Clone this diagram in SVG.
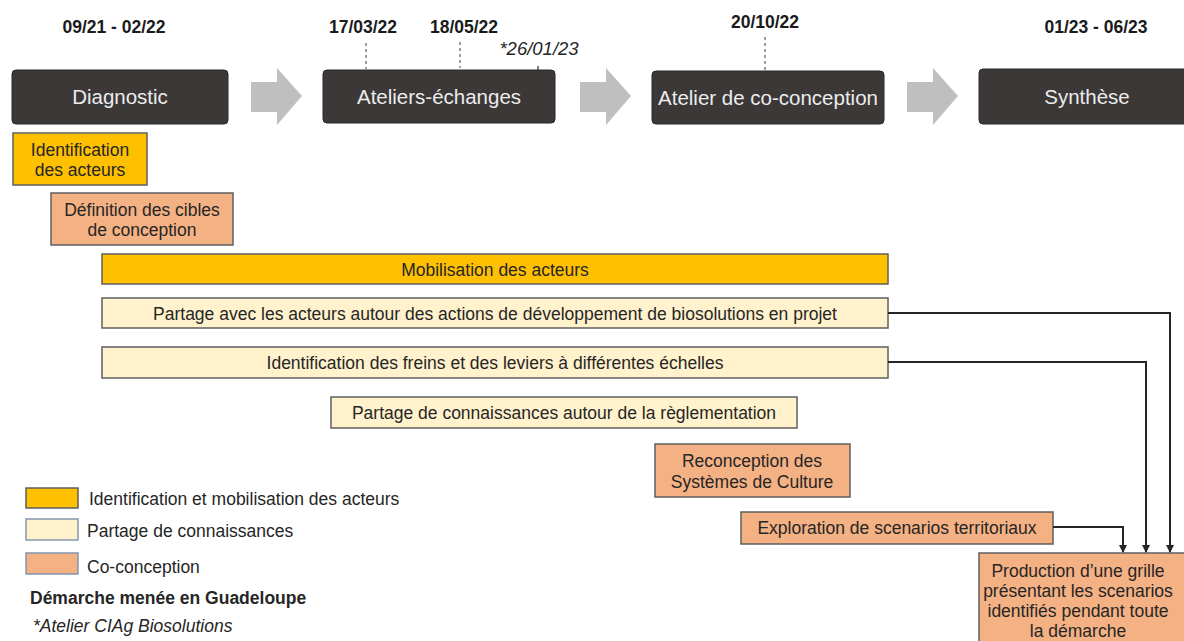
<svg xmlns="http://www.w3.org/2000/svg" width="1184" height="641" viewBox="0 0 1184 641">
<style>
text{font-family:"Liberation Sans",Arial,sans-serif;fill:#262626}
.date{font-size:17.5px;font-weight:bold;text-anchor:middle;fill:#1a1a1a}
.phase{fill:#3b3837;stroke:#2a2828;stroke-width:1}
.phase-t{font-size:20.5px;fill:#ececec;text-anchor:middle}
.garrow{fill:#bfbfbf}
.dash{stroke:#7f7f7f;stroke-width:1.5;stroke-dasharray:3 3}
.box{stroke:#5f5f5f;stroke-width:1.5}
.yel{fill:#ffc000}
.cream{fill:#fff2cc}
.peach{fill:#f4b183}
.bt{font-size:17.5px;text-anchor:middle}
.lg{font-size:17.5px}
.conn{fill:none;stroke:#262626;stroke-width:2}
</style>
<defs>
<marker id="ahd" markerWidth="8" markerHeight="8" refX="7" refY="4" orient="auto" markerUnits="userSpaceOnUse" viewBox="0 0 8 8">
<path d="M0,0 L8,4 L0,8 Z" fill="#262626"/>
</marker>
</defs>

<g id="dates">
<text class="date" x="114" y="33">09/21 - 02/22</text>
<text class="date" x="363" y="33">17/03/22</text>
<text class="date" x="464" y="33">18/05/22</text>
<text x="539" y="55" style="font-size:18.5px;font-style:italic;text-anchor:middle">*26/01/23</text>
<text class="date" x="765" y="28">20/10/22</text>
<text class="date" x="1096" y="33">01/23 - 06/23</text>
<line class="dash" x1="366" y1="43" x2="366" y2="69"/>
<line class="dash" x1="460" y1="42" x2="460" y2="68"/>
<line class="dash" x1="765" y1="37" x2="765" y2="70"/>
<line x1="538" y1="66" x2="538" y2="71" stroke="#555" stroke-width="1.5"/>
</g>

<g id="phase-diagnostic">
<rect class="phase" x="12" y="70" width="216" height="54" rx="4"/>
<text class="phase-t" x="120" y="104">Diagnostic</text>
</g>
<g id="phase-ateliers">
<rect class="phase" x="323" y="70" width="232" height="53" rx="4"/>
<text class="phase-t" x="439" y="104">Ateliers-échanges</text>
</g>
<g id="phase-coconception">
<rect class="phase" x="652" y="71" width="232" height="53" rx="4"/>
<text class="phase-t" x="768" y="105">Atelier de co-conception</text>
</g>
<g id="phase-synthese">
<rect class="phase" x="979" y="69" width="215" height="55" rx="4"/>
<text class="phase-t" x="1087" y="104">Synthèse</text>
</g>

<g id="phase-arrows">
<path class="garrow" d="M251,82 L277,82 L277,68 L302,96 L277,125 L277,112 L251,112 Z"/>
<path class="garrow" d="M580,82 L606,82 L606,68 L631,96 L606,125 L606,112 L580,112 Z"/>
<path class="garrow" d="M907,82 L933,82 L933,68 L958,96 L933,125 L933,112 L907,112 Z"/>
</g>

<g id="n-identification-acteurs">
<rect class="box yel" x="13" y="133" width="134" height="52"/>
<text class="bt" x="80" y="156">Identification</text>
<text class="bt" x="80" y="176">des acteurs</text>
</g>
<g id="n-definition-cibles">
<rect class="box peach" x="51" y="193" width="182" height="52"/>
<text class="bt" x="142" y="216">Définition des cibles</text>
<text class="bt" x="142" y="236">de conception</text>
</g>
<g id="n-mobilisation">
<rect class="box yel" x="102" y="254" width="786" height="30"/>
<text class="bt" x="495" y="276">Mobilisation des acteurs</text>
</g>
<g id="n-partage-acteurs">
<rect class="box cream" x="102" y="298" width="786" height="30"/>
<text class="bt" x="495" y="320">Partage avec les acteurs autour des actions de développement de biosolutions en projet</text>
</g>
<g id="n-freins-leviers">
<rect class="box cream" x="102" y="347" width="786" height="31"/>
<text class="bt" x="495" y="369">Identification des freins et des leviers à différentes échelles</text>
</g>
<g id="n-partage-reglementation">
<rect class="box cream" x="331" y="397" width="466" height="31"/>
<text class="bt" x="564" y="419">Partage de connaissances autour de la règlementation</text>
</g>
<g id="n-reconception">
<rect class="box peach" x="655" y="444" width="195" height="53"/>
<text class="bt" x="752" y="467">Reconception des</text>
<text class="bt" x="752" y="488">Systèmes de Culture</text>
</g>
<g id="n-exploration">
<rect class="box peach" x="741" y="512" width="312" height="32"/>
<text class="bt" x="897" y="534">Exploration de scenarios territoriaux</text>
</g>
<g id="n-production">
<rect class="box peach" x="979" y="553" width="215" height="95"/>
<text class="bt" x="1078" y="577">Production d’une grille</text>
<text class="bt" x="1078" y="597">présentant les scenarios</text>
<text class="bt" x="1078" y="617">identifiés pendant toute</text>
<text class="bt" x="1078" y="637">la démarche</text>
</g>

<g id="connectors">
<path class="conn" d="M888,313 L1170,313 L1170,552" marker-end="url(#ahd)"/>
<path class="conn" d="M888,362 L1146,362 L1146,552" marker-end="url(#ahd)"/>
<path class="conn" d="M1053,527 L1123,527 L1123,552" marker-end="url(#ahd)"/>
</g>

<g id="legend">
<rect x="26" y="488" width="52" height="20" fill="#ffc000" stroke="#5f5f5f" stroke-width="1.5"/>
<text class="lg" x="89" y="505">Identification et mobilisation des acteurs</text>
<rect x="26" y="519" width="52" height="21" fill="#fff2cc" stroke="#8497b0" stroke-width="1.5"/>
<text class="lg" x="87" y="537">Partage de connaissances</text>
<rect x="26" y="553" width="52" height="21" fill="#f4b183" stroke="#8497b0" stroke-width="1.5"/>
<text class="lg" x="87" y="573">Co-conception</text>
<text x="30" y="604" style="font-size:17.5px;font-weight:bold">Démarche menée en Guadeloupe</text>
<text x="33" y="632" style="font-size:17.5px;font-style:italic">*Atelier CIAg Biosolutions</text>
</g>
</svg>
